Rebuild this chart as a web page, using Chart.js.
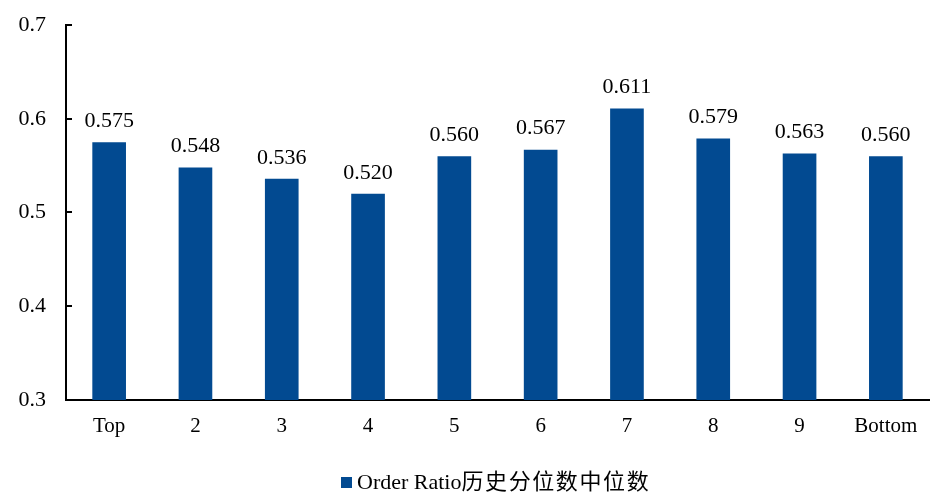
<!DOCTYPE html>
<html>
<head>
<meta charset="utf-8">
<script src="https://cdn.jsdelivr.net/npm/chart.js@4.4.1/dist/chart.umd.min.js"></script>
<style>
  html, body { margin: 0; padding: 0; background: #ffffff; }
  #wrap { width: 942px; height: 501px; }
</style>
</head>
<body>
<div id="wrap"><canvas id="c" width="942" height="501"></canvas></div>
<script>
// Decile groups and the median historical percentile of Order Ratio in each
const categories = ['Top', '2', '3', '4', '5', '6', '7', '8', '9', 'Bottom'];
const medianValues = [0.575, 0.548, 0.536, 0.520, 0.560, 0.567, 0.611, 0.579, 0.563, 0.560];
const seriesName = 'Order Ratio历史分位数中位数';
const yTicks = [0.3, 0.4, 0.5, 0.6, 0.7];

const FONT = "'Liberation Serif', 'Times New Roman', 'Noto Sans CJK SC', serif";
const BAR = '#024a91';

// Value labels above each bar
const valueLabels = {
  id: 'valueLabels',
  afterDatasetsDraw(chart) {
    const ctx = chart.ctx;
    const meta = chart.getDatasetMeta(0);
    ctx.save();
    ctx.font = '22px ' + FONT;
    ctx.fillStyle = '#000';
    ctx.textAlign = 'center';
    ctx.textBaseline = 'middle';
    meta.data.forEach((bar, i) => {
      ctx.fillText(medianValues[i].toFixed(3), bar.x, bar.y - 21);
    });
    ctx.restore();
  }
};

// Short inward tick marks on the value axis
const innerTicks = {
  id: 'innerTicks',
  afterDraw(chart) {
    const y = chart.scales.y;
    const ctx = chart.ctx;
    ctx.save();
    ctx.strokeStyle = '#000';
    ctx.lineWidth = 2;
    yTicks.forEach(v => {
      const py = Math.round(y.getPixelForValue(v));
      ctx.beginPath();
      ctx.moveTo(y.right, py);
      ctx.lineTo(y.right + 6, py);
      ctx.stroke();
    });
    ctx.restore();
  }
};

// Legend under the plot: a small square swatch and the series name
const bottomLegend = {
  id: 'bottomLegend',
  afterDraw(chart) {
    const ctx = chart.ctx;
    const ds = chart.data.datasets[0];
    const cy = 483;
    ctx.save();
    ctx.fillStyle = ds.backgroundColor;
    ctx.fillRect(341, cy - 6, 11, 11);
    ctx.fillStyle = '#000';
    ctx.textBaseline = 'middle';
    ctx.textAlign = 'left';
    ctx.font = '22px ' + FONT;
    const latin = ds.label.match(/^[\x00-\x7f]+/)[0];
    const rest = ds.label.slice(latin.length);
    ctx.fillText(latin, 357, cy);
    let x = 357 + ctx.measureText(latin).width;
    for (const ch of rest) {
      ctx.fillText(ch, x, cy);
      x += ctx.measureText(ch).width + 1.6;
    }
    ctx.restore();
  }
};

new Chart(document.getElementById('c'), {
  type: 'bar',
  data: {
    labels: categories,
    datasets: [{
      label: seriesName,
      data: medianValues,
      backgroundColor: BAR,
      borderWidth: 0,
      barPercentage: 0.39,
      categoryPercentage: 1.0
    }]
  },
  options: {
    responsive: false,
    animation: false,
    devicePixelRatio: 1,
    layout: { padding: { top: 25, right: 13, left: 0, bottom: 51 } },
    plugins: {
      tooltip: { enabled: false },
      legend: { display: false }
    },
    scales: {
      x: {
        grid: { display: false, drawTicks: false },
        border: { color: '#000', width: 2 },
        ticks: { font: { family: FONT, size: 21 }, color: '#000', padding: 14, maxRotation: 0 },
        afterFit(scale) { scale.height = 50; scale.paddingLeft = 0; scale.paddingRight = 0; }
      },
      y: {
        min: 0.3,
        max: 0.7,
        afterBuildTicks(scale) { scale.ticks = yTicks.map(v => ({ value: v })); },
        grid: { display: false, drawTicks: false },
        border: { color: '#000', width: 2 },
        ticks: {
          font: { family: FONT, size: 22 },
          color: '#000',
          padding: 20,
          callback: v => v.toFixed(1)
        },
        afterFit(scale) { scale.width = 66; scale.paddingTop = 0; scale.paddingBottom = 0; }
      }
    }
  },
  plugins: [valueLabels, innerTicks, bottomLegend]
});
</script>
</body>
</html>
